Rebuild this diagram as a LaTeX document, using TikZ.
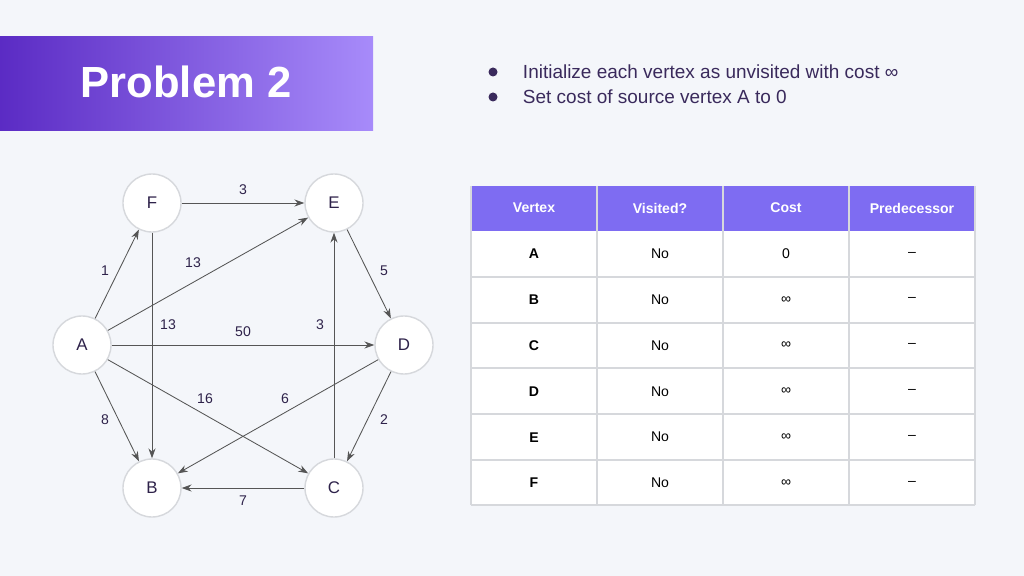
\documentclass[tikz,border=0pt]{standalone}
\usepackage{fontspec}
\setmainfont{Liberation Sans}
\usetikzlibrary{arrows.meta}
\definecolor{pagebg}{HTML}{F4F6FA}
\definecolor{headpurple}{HTML}{7E6CF2}
\definecolor{darkpurple}{HTML}{5B2BC4}
\definecolor{lightpurple}{HTML}{A78BFA}
\definecolor{textpurple}{HTML}{3A2A5C}
\definecolor{edgegray}{HTML}{555555}
\definecolor{gridgray}{HTML}{D6D8DC}
\begin{document}
\begin{tikzpicture}[x=0.025cm,y=-0.025cm,
  vertex/.style={circle,draw=gridgray,line width=1pt,fill=white,minimum size=1.45cm,font=\large,text=textpurple!80!black},
  edge/.style={draw=edgegray,line width=0.6pt,-{Stealth[length=7pt,width=5pt]}},
  wlabel/.style={font=\normalsize,text=textpurple!80!black},
  cell/.style={font=\normalsize,text=black}]
\useasboundingbox[fill=pagebg] (0,0) rectangle (1024,576);
% banner
\shade[left color=darkpurple,right color=lightpurple] (0,37) rectangle (373,131);
\node[text=white,font=\bfseries\fontsize{31}{33}\selectfont] (title) at (186,82) {Problem 2};
% bullets
\fill[textpurple] (493,72) circle (4.5);
\fill[textpurple] (493,97) circle (4.5);
\node[anchor=west,text=textpurple,font=\fontsize{13.5}{16}\selectfont] (b1) at (518,72) {Initialize each vertex as unvisited with cost ∞};
\node[anchor=west,text=textpurple,font=\fontsize{13.5}{16}\selectfont] (b2) at (518,97) {Set cost of source vertex A to 0};
% graph
\node[vertex] (F) at (152,203) {F};
\node[vertex] (E) at (334,203) {E};
\node[vertex] (A) at (82,345) {A};
\node[vertex] (D) at (404,345) {D};
\node[vertex] (B) at (152,488) {B};
\node[vertex] (C) at (334,488) {C};
\draw[edge] (F) -- (E);
\draw[edge] (A) -- (F);
\draw[edge] (A) -- (E);
\draw[edge] (F) -- (B);
\draw[edge] (A) -- (D);
\draw[edge] (C) -- (E);
\draw[edge] (E) -- (D);
\draw[edge] (A) -- (C);
\draw[edge] (D) -- (B);
\draw[edge] (A) -- (B);
\draw[edge] (D) -- (C);
\draw[edge] (C) -- (B);
\node[wlabel] (wFE) at (243,190) {3};
\node[wlabel] (wAF) at (105,271) {1};
\node[wlabel] (wAE) at (193,263) {13};
\node[wlabel] (wFB) at (168,325) {13};
\node[wlabel] (wAD) at (243,332) {50};
\node[wlabel] (wCE) at (320,325) {3};
\node[wlabel] (wED) at (384,271) {5};
\node[wlabel] (wAC) at (205,399) {16};
\node[wlabel] (wDB) at (285,399) {6};
\node[wlabel] (wAB) at (105,420) {8};
\node[wlabel] (wDC) at (384,420) {2};
\node[wlabel] (wCB) at (243,501) {7};
% table
\fill[white] (471,231) rectangle (975,505);
\fill[headpurple] (471,186) rectangle (975,231);
\foreach \y in {277,323,368,414,460,505}
  \draw[gridgray,line width=0.8pt] (471,\y) -- (975,\y);
\foreach \x in {471,597,723,849,975}
  \draw[gridgray,line width=0.8pt] (\x,186) -- (\x,505);
\foreach \t [count=\i from 0] in {Vertex,Visited?,Cost,Predecessor}
  \node[text=white,font=\normalsize\bfseries] (h\i) at (534+126*\i,208) {\t};
\foreach \v/\c [count=\r from 0] in {A/0,B/∞,C/∞,D/∞,E/∞,F/∞}{
  \node[cell,font=\normalsize\bfseries] (v\r) at (534,254+45.8*\r) {\v};
  \node[cell] (s\r) at (660,254+45.8*\r) {No};
  \node[cell] (c\r) at (786,254+45.8*\r) {\c};
  \node[cell] (p\r) at (912,254+45.8*\r) {–};
}
\end{tikzpicture}
\end{document}
